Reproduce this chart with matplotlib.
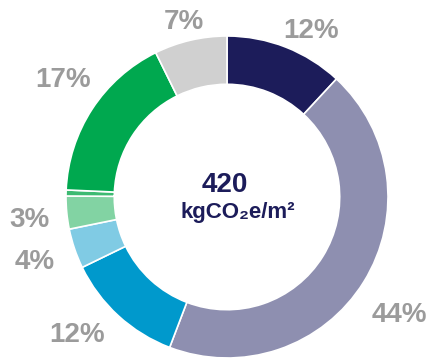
import matplotlib.pyplot as plt
import numpy as np

# доли сегментов (по часовой стрелке от верха)
shares = [11.9, 43.9, 12.0, 4.0, 3.3, 0.6, 17.0, 7.3]
labels = ['12%', '44%', '12%', '4%', '3%', '', '17%', '7%']
colors = ['#1c1c5a', '#8e8fb0', '#0099cc', '#80cbe4', '#82d3a3',
          '#3dba72', '#00a84f', '#d0d0d0']
total_value = '420'
unit = 'kgCO₂e/m²'

plt.rcParams['font.family'] = ['Liberation Sans', 'DejaVu Sans']

fig = plt.figure(figsize=(4.3, 3.63), dpi=100)
ax = fig.add_axes([0, 0, 1, 1])

wedges, _ = ax.pie(shares, colors=colors, startangle=90, counterclock=False,
                   radius=1.0,
                   wedgeprops=dict(width=0.30, edgecolor='white', linewidth=1.2))

# положение подписей (центр по x, базовая линия по y)
label_pos = [(0.522, 0.988), (1.068, -0.776), (-0.932, -0.901),
             (-1.193, -0.447), (-1.224, -0.186), None,
             (-1.019, 0.683), (-0.267, 1.043)]
for lab, pos in zip(labels, label_pos):
    if not lab:
        continue
    ax.text(pos[0], pos[1], lab, ha='center', va='baseline',
            fontsize=20, fontweight='bold', color='#9b9b9b')

ax.text(-0.012, 0.031, total_value, ha='center', va='baseline', fontsize=20,
        fontweight='bold', color='#1c1c5a')
ax.text(0.068, -0.130, unit, ha='center', va='baseline', fontsize=16,
        fontweight='bold', color='#1c1c5a')

ax.set_xlim(-227 / 161, (430 - 227) / 161)
ax.set_ylim(-(363 - 197) / 161, 197 / 161)
ax.set_aspect('auto')
ax.axis('off')

fig.savefig('out.png', dpi=100)
